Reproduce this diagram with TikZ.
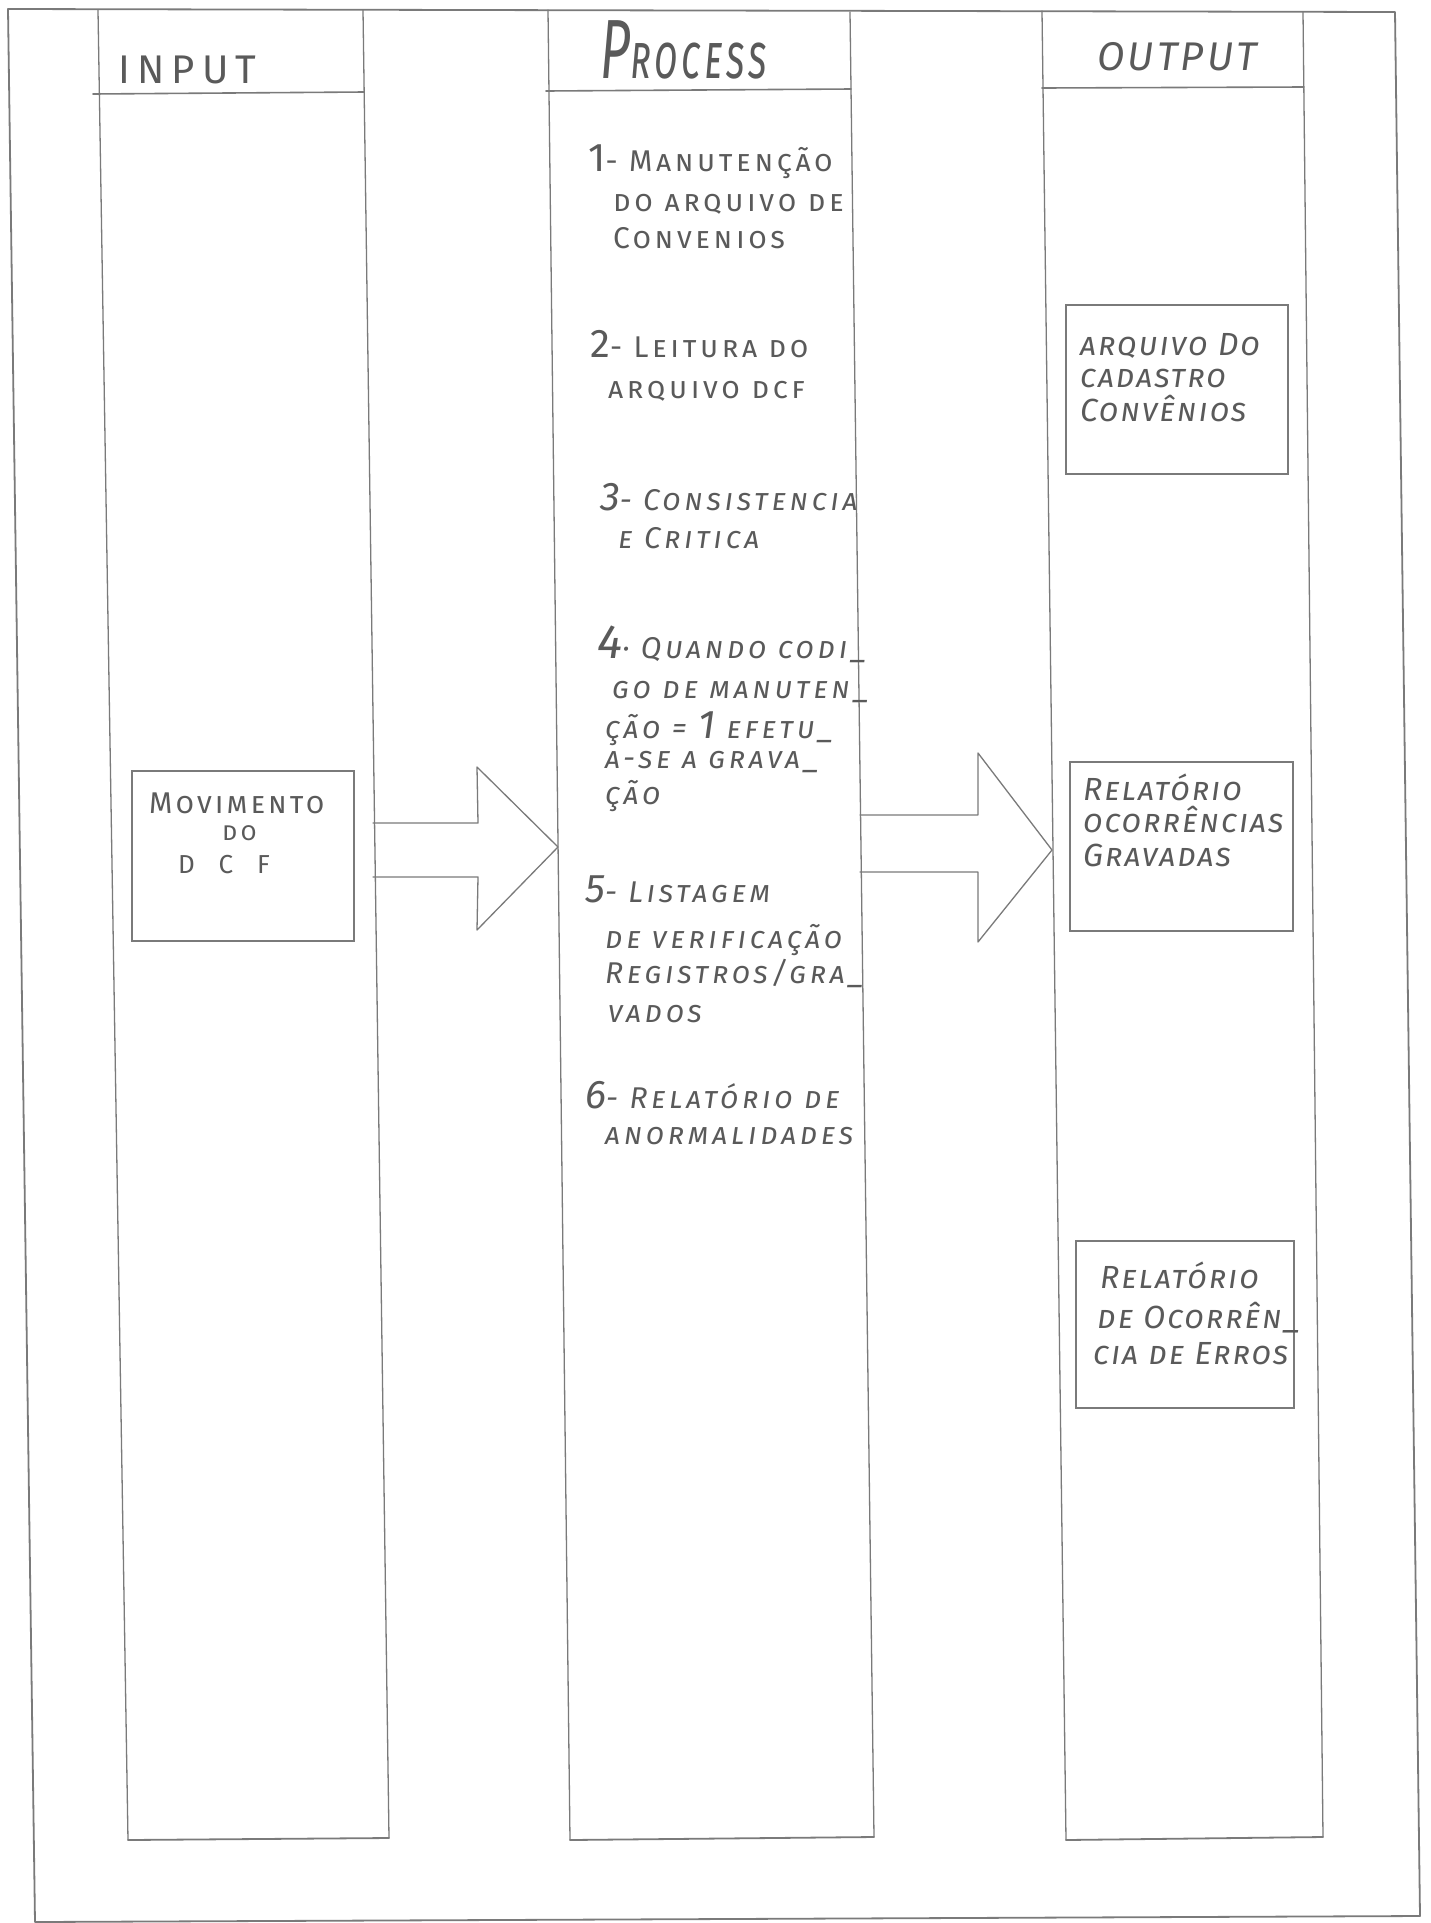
\documentclass[tikz,border=0pt]{standalone}
\usepackage{fontspec}
% hand-lettered look: small caps with generous tracking
\newfontfamily\hand{Fira Sans}[Letters=SmallCaps, LetterSpace=12]
\newfontfamily\handhead{Fira Sans}[Letters=SmallCaps, LetterSpace=8]
\newfontfamily\handtall{Fira Sans}[Letters=SmallCaps, LetterSpace=6, FakeStretch=0.62]
\definecolor{lead}{HTML}{7A7A7A}
\definecolor{ink}{HTML}{5A5A5A}
\newcommand\bignum[1]{{\fontsize{40}{40}\selectfont #1}}

\tikzset{
  pencil/.style={draw=lead, line width=1.3pt, line cap=round, line join=round},
  heavy/.style={pencil, line width=1.8pt},
  boxed/.style={rectangle, draw=lead, line width=1.3pt, inner sep=0pt},
  body/.style={anchor=base west, inner sep=0pt, text=ink, font=\hand\fontsize{30}{34}\selectfont},
  bodyit/.style={body, font=\hand\itshape\fontsize{30}{34}\selectfont},
  outtxt/.style={body, font=\hand\itshape\fontsize{32}{36}\selectfont\addfontfeature{LetterSpace=6}},
  head/.style={anchor=base west, inner sep=0pt, text=ink, font=\handhead\fontsize{40}{44}\selectfont},
}

\begin{document}
\begin{tikzpicture}[x=1pt,y=-1pt]
\fill[white] (0,0) rectangle (1431,1923);
\useasboundingbox (0,0) rectangle (1431,1923);

% sheet frame
\coordinate (fTL) at (8,9);
\coordinate (fTR) at (1395,12);
\coordinate (fBR) at (1420,1916);
\coordinate (fBL) at (35,1922);
\draw[heavy] (fTL) -- (fTR) -- (fBR) -- (fBL) -- cycle;

% input lane
\coordinate (iTL) at (98,10);   \coordinate (iTR) at (363,10);
\coordinate (iBL) at (128,1840); \coordinate (iBR) at (389,1838);
\draw[pencil] (iTL) -- (iBL);
\draw[pencil] (iTR) -- (iBR);
\draw[heavy] (iBL) -- (iBR);
\draw[pencil, line width=1.6pt] (93,94) -- (364,92);

% process lane
\coordinate (pTL) at (548,10);   \coordinate (pTR) at (850,12);
\coordinate (pBL) at (570,1840); \coordinate (pBR) at (874,1837);
\draw[pencil] (pTL) -- (pBL);
\draw[pencil] (pTR) -- (pBR);
\draw[heavy] (pBL) -- (pBR);
\draw[pencil, line width=1.6pt] (546,91) -- (851,89);

% output lane
\coordinate (oTL) at (1042,11);   \coordinate (oTR) at (1303,12);
\coordinate (oBL) at (1066,1840); \coordinate (oBR) at (1323,1837);
\draw[pencil] (oTL) -- (oBL);
\draw[pencil] (oTR) -- (oBR);
\draw[heavy] (oBL) -- (oBR);
\draw[pencil, line width=1.6pt] (1042,88) -- (1304,87);

% lane headings
\node[head, font=\handhead\fontsize{40}{44}\selectfont\addfontfeature{LetterSpace=18}] (hin) at (118,83) {INPUT};
\node[head, font=\handtall\itshape\fontsize{62}{66}\selectfont] (hproc) at (600,78) {{\fontsize{84}{84}\selectfont P}rocess};
\node[head, font=\handhead\itshape\fontsize{40}{44}\selectfont] (hout) at (1097,70) {OUTPUT};

% input box
\node[boxed, minimum width=222pt, minimum height=170pt] (mov) at (243,856) {};
\node[body, font=\hand\fontsize{30}{34}\selectfont\addfontfeature{LetterSpace=10}] (mov1) at (149,813) {Movimento};
\node[body, font=\hand\fontsize{26}{30}\selectfont] (mov2) at (222,840) {do};
\node[body, font=\hand\fontsize{26}{30}\selectfont\addfontfeature{LetterSpace=65}] (mov3) at (178,873) {D C F};

% block arrows between lanes
\coordinate (arInTail) at (373,850);
\coordinate (arInTip) at (558,847);
\draw[pencil] (373,823) -- (478,823) -- (477,767) -- (arInTip) -- (477,930) -- (478,877) -- (373,877);
\coordinate (arOutTail) at (860,843);
\coordinate (arOutTip) at (1052,850);
\draw[pencil] (860,815) -- (978,815) -- (978,753) -- (arOutTip) -- (978,942) -- (978,872) -- (860,872);

% process steps
\node[body] (p1a) at (588,171) {\bignum{1}- Manutenção};
\node[body] (p1b) at (613,211) {do arquivo de};
\node[body] (p1c) at (613,248) {Convenios};
\node[body] (p2a) at (590,357) {\bignum{2}- Leitura do};
\node[body] (p2b) at (608,398) {arquivo dcf};
\node[bodyit] (p3a) at (600,510) {\bignum{3}- Consistencia};
\node[bodyit] (p3b) at (618,548) {e Critica};
\node[bodyit] (p4a) at (597,658) {{\fontsize{48}{48}\selectfont 4}· Quando codi\_};
\node[bodyit] (p4b) at (612,698) {go de manuten\_};
\node[bodyit] (p4c) at (605,738) {ção = \bignum{1} efetu\_};
\node[bodyit] (p4d) at (605,768) {a-se a grava\_};
\node[bodyit] (p4e) at (605,804) {ção};
\node[bodyit] (p5a) at (585,902) {\bignum{5}- Listagem};
\node[bodyit] (p5b) at (605,948) {de verificação};
\node[bodyit] (p5c) at (605,983) {Registros/gra\_};
\node[bodyit] (p5d) at (608,1022) {vados};
\node[bodyit] (p6a) at (585,1108) {\bignum{6}- Relatório de};
\node[bodyit] (p6b) at (605,1144) {anormalidades};

% output boxes
\node[boxed, minimum width=222pt, minimum height=169pt] (arq) at (1177,389.5) {};
\node[outtxt] (arq1) at (1080,355) {arquivo Do};
\node[outtxt] (arq2) at (1080,387) {cadastro};
\node[outtxt] (arq3) at (1080,421) {Convênios};

\node[boxed, minimum width=223pt, minimum height=169pt] (rel) at (1181.5,846.5) {};
\node[outtxt] (rel1) at (1083,800) {Relatório};
\node[outtxt] (rel2) at (1083,832) {ocorrências};
\node[outtxt] (rel3) at (1083,866) {Gravadas};

\node[boxed, minimum width=218pt, minimum height=167pt] (err) at (1185,1324.5) {};
\node[outtxt] (err1) at (1100,1288) {Relatório};
\node[outtxt] (err2) at (1097,1328) {de Ocorrên\_};
\node[outtxt] (err3) at (1093,1364) {cia de Erros};
\end{tikzpicture}
\end{document}
